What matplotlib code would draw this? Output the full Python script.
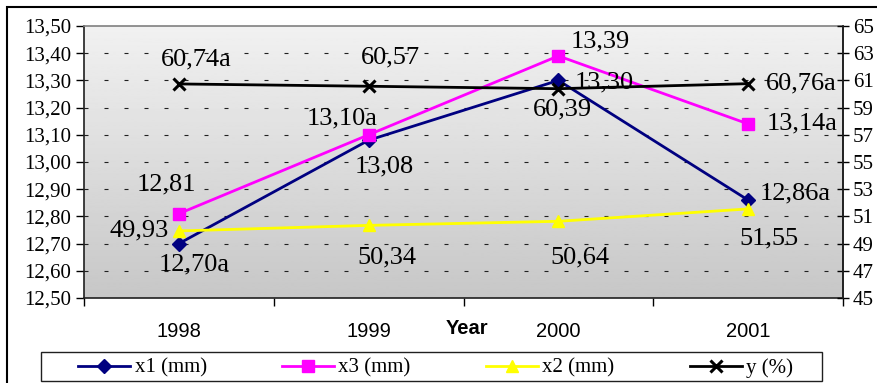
import numpy as np
import matplotlib
matplotlib.use("Agg")
import matplotlib.pyplot as plt
from matplotlib.patches import Rectangle

years = ["1998", "1999", "2000", "2001"]
x1 = [12.70, 13.08, 13.30, 12.86]
x3 = [12.81, 13.10, 13.39, 13.14]
x2 = [49.93, 50.34, 50.64, 51.55]
y = [60.74, 60.57, 60.39, 60.76]

x1_lab = ["12,70a", "13,08", "13,30", "12,86a"]
x3_lab = ["12,81", "13,10a", "13,39", "13,14a"]
x2_lab = ["49,93", "50,34", "50,64", "51,55"]
y_lab = ["60,74a", "60,57", "60,39", "60,76a"]

# label offsets in pixels (dx, dy)
x1_off = [(15, -21), (16, -26), (46, -2), (47, 7)]
x3_off = [(-12, 29), (-27, 16), (42, 14), (54, 0)]
x2_off = [(-40, 0), (18, -32), (22, -36), (21, -30)]
y_off = [(17, 24), (22, 29), (4, -21), (53, 0)]

serif = "Liberation Serif"
sans = "Liberation Sans"
W, H = 877, 383

fig = plt.figure(figsize=(W / 100, H / 100), dpi=100)
ax = fig.add_axes([84 / W, (H - 298) / H, 759 / W, 272 / H])
pos = np.arange(len(years))

# gradient background
grad = np.linspace(0.945, 0.78, 256).reshape(-1, 1)
ax.imshow(grad, cmap="gray", vmin=0, vmax=1, aspect="auto",
          extent=[0, 1, 0, 1], transform=ax.transAxes, zorder=0)

ax.set_xlim(-0.5, 3.5)
ax.set_ylim(12.5, 13.5)
ax.set_yticks(np.arange(12.5, 13.51, 0.1))
ax.set_yticklabels([f"{v:.2f}".replace(".", ",") for v in np.arange(12.5, 13.51, 0.1)],
                   family=serif, fontsize=15)
ax.tick_params(axis="y", direction="out", length=6, width=1, pad=3)
for v in np.arange(12.6, 13.45, 0.1):
    ax.axhline(v, color="#202020", lw=0.8, dashes=(3.6, 14.4), zorder=1)

ax.set_xticks(pos)
ax.set_xticklabels(years, family=sans, fontsize=14.5)
ax.tick_params(axis="x", length=0, pad=17)
ax.set_xticks(np.arange(-0.5, 3.6, 1), minor=True)
ax.tick_params(axis="x", which="minor", direction="out", length=6, width=1)
ax.text((467 - 84) / 759, -31 / 272, "Year", transform=ax.transAxes,
        ha="center", va="center", family=sans, fontsize=14.5, fontweight="bold")

ax.spines["top"].set_color("#808080")
for s in ["left", "bottom", "right"]:
    ax.spines[s].set_color("#202020")
for s in ax.spines.values():
    s.set_linewidth(1.2)

l1, = ax.plot(pos, x1, color="#000080", lw=2, marker="D", ms=7, zorder=3, label="x1 (mm)")
l3, = ax.plot(pos, x3, color="#ff00ff", lw=2, marker="s", ms=9, zorder=3, label="x3 (mm)")

ax2 = ax.twinx()
ax2.set_ylim(45, 65)
ax2.set_yticks(np.arange(45, 66, 2))
ax2.set_yticklabels([str(v) for v in range(45, 66, 2)], family=serif, fontsize=15)
ax2.tick_params(axis="y", direction="inout", length=8, width=1, pad=3)
ax2.spines["right"].set_color("#202020")
ax2.spines["right"].set_linewidth(1.2)
for s in ["top", "left", "bottom"]:
    ax2.spines[s].set_visible(False)

l2, = ax2.plot(pos, x2, color="#ffff00", lw=2, marker="^", ms=9, zorder=3, label="x2 (mm)")
ly, = ax2.plot(pos, y, color="black", lw=2, marker="x", ms=9, mew=2.2, zorder=3, label="y (%)")

def put_labels(a, vals, labs, offs):
    for xi, v, t, (dx, dy) in zip(pos, vals, labs, offs):
        a.annotate(t, (xi, v), xytext=(dx, dy), textcoords="offset pixels",
                   ha="center", va="center", family=serif, fontsize=19,
                   annotation_clip=False, zorder=5)

put_labels(ax, x1, x1_lab, x1_off)
put_labels(ax, x3, x3_lab, x3_off)
put_labels(ax2, x2, x2_lab, x2_off)
put_labels(ax2, y, y_lab, y_off)

fig.add_artist(Rectangle((41 / W, 1 - 381 / H), 781 / W, 29 / H, transform=fig.transFigure,
                         facecolor="white", edgecolor="#202020", lw=1))
leg = fig.legend([l1, l3, l2, ly], ["x1 (mm)", "x3 (mm)", "x2 (mm)", "y (%)"],
                 loc="center left", ncol=4, frameon=False,
                 bbox_to_anchor=(78 / W, 1 - 368 / H),
                 borderaxespad=0, borderpad=0, handlelength=2.5,
                 handletextpad=0.22, columnspacing=3.6,
                 prop={"family": serif, "size": 15})

fig.add_artist(Rectangle((7 / W, -0.2), 2, 1 - 7 / H + 0.2, transform=fig.transFigure,
                         fill=False, edgecolor="black", lw=1.5))

fig.savefig("out.png", dpi=100)
